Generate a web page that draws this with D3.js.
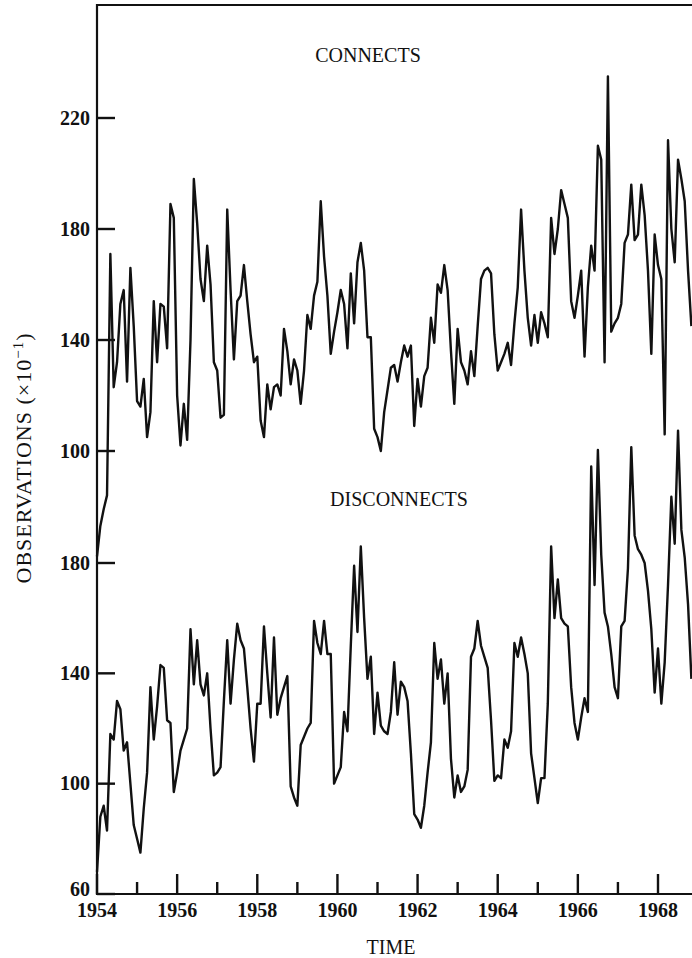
<!DOCTYPE html>
<html>
<head>
<meta charset="utf-8">
<script src="https://cdn.jsdelivr.net/npm/d3@7"></script>
<style>
  body { margin: 0; background: #fff; }
  svg { display: block; font-family: 'Liberation Serif', 'Times New Roman', serif; }
</style>
</head>
<body>
<svg id="chart" width="692" height="958"></svg>
<script>
// monthly series, Jan 1954 onwards (x10^-1)
const start_year = 1954
const connects = [
    62, 73, 79, 84, 171, 123, 132, 153, 158, 125,
    166, 145, 118, 116, 126, 105, 114, 154, 132, 153,
    152, 137, 189, 184, 120, 102, 117, 104, 140, 198,
    182, 162, 154, 174, 160, 132, 129, 112, 113, 187,
    158, 133, 154, 156, 167, 154, 142, 132, 134, 111,
    105, 124, 115, 123, 124, 120, 144, 136, 124, 133,
    129, 117, 129, 149, 144, 156, 161, 190, 170, 156,
    135, 143, 150, 158, 153, 137, 164, 146, 168, 175,
    165, 141, 141, 108, 105, 100, 114, 122, 130, 131,
    125, 132, 138, 134, 138, 109, 126, 116, 127, 130,
    148, 139, 160, 157, 167, 158, 136, 117, 144, 132,
    129, 124, 136, 127, 145, 162, 165, 166, 164, 142,
    129, 132, 135, 139, 131, 146, 159, 187, 165, 148,
    138, 149, 139, 150, 146, 141, 184, 171, 180, 194,
    189, 184, 154, 148, 156, 165, 134, 159, 174, 165,
    210, 205, 132, 235, 143, 146, 148, 153, 175, 178,
    196, 176, 178, 196, 185, 165, 135, 178, 167, 162,
    106, 212, 180, 168, 205, 198, 190, 165, 145
]
const disconnects = [
    68, 88, 92, 83, 118, 116, 130, 127, 112, 115,
    100, 85, 80, 75, 91, 104, 135, 116, 128, 143,
    142, 123, 122, 97, 104, 112, 116, 120, 156, 136,
    152, 136, 132, 140, 120, 103, 104, 106, 130, 152,
    129, 145, 158, 152, 149, 135, 120, 108, 129, 129,
    157, 140, 124, 153, 125, 131, 135, 139, 99, 95,
    92, 114, 117, 120, 122, 159, 151, 147, 159, 147,
    147, 100, 103, 106, 126, 119, 150, 179, 155, 186,
    160, 138, 146, 118, 133, 121, 119, 118, 126, 144,
    125, 137, 135, 130, 111, 89, 87, 84, 92, 104,
    115, 151, 138, 145, 129, 140, 109, 95, 103, 97,
    99, 105, 146, 149, 159, 150, 146, 142, 123, 101,
    103, 102, 116, 113, 119, 151, 146, 153, 147, 140,
    111, 102, 93, 102, 102, 129, 186, 160, 174, 160,
    158, 157, 135, 122, 116, 124, 131, 126, 215, 172,
    221, 183, 162, 157, 147, 135, 131, 157, 159, 178,
    222, 190, 185, 183, 180, 170, 156, 133, 149, 129,
    144, 172, 204, 187, 228, 192, 182, 165, 138
]
const year_ticks = [1954, 1955, 1956, 1957, 1958, 1959, 1960, 1961, 1962, 1963, 1964, 1965, 1966, 1967, 1968]
const year_labels = [1954, 1956, 1958, 1960, 1962, 1964, 1966, 1968]
const connects_ticks = [100, 140, 180, 220]
const disconnects_ticks = [60, 100, 140, 180]

const svg = d3.select('#chart')
const width = 692, height = 958
const margin = ({ top: 5, left: 97, bottom: 894 })
const ink = '#111'

const x = d3.scaleLinear()
    .domain([1954, 1968])
    .range([margin.left, 658])
const y_conn = d3.scaleLinear()
    .domain([100, 220])
    .range([451, 118])
const y_disc = d3.scaleLinear()
    .domain([60, 180])
    .range([margin.bottom, 563])

const month_time = i => start_year + i / 12

// frame
svg.append('path')
    .attr('d', `M${width},${margin.top}H${margin.left}V${margin.bottom}H${width}`)
    .attr('fill', 'none')
    .attr('stroke', ink)
    .attr('stroke-width', 2.2)

// x ticks point up into the plot, longer on even years
svg.append('g')
    .selectAll('rect')
    .data(year_ticks)
    .join('rect')
    .attr('x', d => x(d) - 1.2)
    .attr('width', 2.4)
    .attr('y', d => margin.bottom - (year_labels.includes(d) ? 20 : 12))
    .attr('height', d => year_labels.includes(d) ? 20 : 12)
    .attr('fill', ink)

svg.append('g')
    .selectAll('text')
    .data(year_labels)
    .join('text')
    .attr('x', d => x(d))
    .attr('y', 917)
    .attr('text-anchor', 'middle')
    .attr('font-size', 20)
    .attr('font-weight', 'bold')
    .attr('fill', ink)
    .text(d => d)

// y ticks point right into the plot
const y_ticks = (scale, ticks) => {
    const g = svg.append('g')
    g.selectAll('rect')
        .data(ticks)
        .join('rect')
        .attr('x', margin.left)
        .attr('width', 18)
        .attr('y', d => scale(d) - 1.2)
        .attr('height', 2.4)
        .attr('fill', ink)
    g.selectAll('text')
        .data(ticks)
        .join('text')
        .attr('x', margin.left - 7)
        .attr('y', d => scale(d))
        .attr('dy', d => d === 60 ? '0.1em' : '0.33em')
        .attr('text-anchor', 'end')
        .attr('font-size', 20)
        .attr('font-weight', 'bold')
        .attr('fill', ink)
        .text(d => d)
}
y_ticks(y_conn, connects_ticks)
y_ticks(y_disc, disconnects_ticks)

// series
const line_conn = d3.line()
    .x((d, i) => x(month_time(i)))
    .y(d => y_conn(d))
const line_disc = d3.line()
    .x((d, i) => x(month_time(i)))
    .y(d => y_disc(d))

svg.append('path')
    .datum(connects)
    .attr('fill', 'none')
    .attr('stroke', ink)
    .attr('stroke-width', 2.4)
    .attr('stroke-linejoin', 'round')
    .attr('d', line_conn)
svg.append('path')
    .datum(disconnects)
    .attr('fill', 'none')
    .attr('stroke', ink)
    .attr('stroke-width', 2.4)
    .attr('stroke-linejoin', 'round')
    .attr('d', line_disc)

// labels
const label = (tx, ty, txt) => svg.append('text')
    .attr('x', tx)
    .attr('y', ty)
    .attr('text-anchor', 'middle')
    .attr('font-size', 20)
    .attr('fill', ink)
    .text(txt)

label(368, 62, 'CONNECTS')
label(399, 506, 'DISCONNECTS')
label(391, 954, 'TIME')

const ylab = svg.append('text')
    .attr('transform', 'translate(31,458) rotate(-90)')
    .attr('text-anchor', 'middle')
    .attr('font-size', 22)
    .attr('letter-spacing', 1)
    .attr('fill', ink)
ylab.append('tspan').text('OBSERVATIONS (\u00d710')
ylab.append('tspan').attr('dy', -8).attr('font-size', 15).text('\u22121')
ylab.append('tspan').attr('dy', 8).text(')')
</script>
</body>
</html>
